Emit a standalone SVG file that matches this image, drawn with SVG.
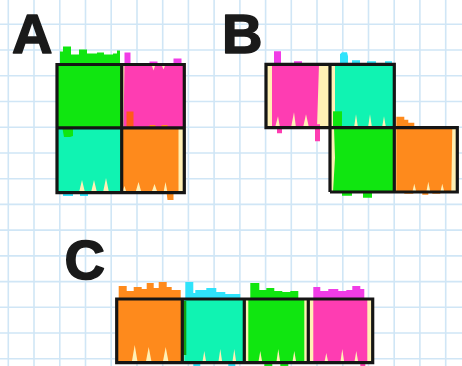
<svg xmlns="http://www.w3.org/2000/svg" width="462" height="366" viewBox="0 0 462 366">
<style>
.grid{stroke:#d0e6f6;stroke-width:1.6;fill:none}
.bg{fill:#fff0b5}
.gr{fill:#10e610}
.pk{fill:#fe3db2}
.mg{fill:#f03ce6}
.tl{fill:#10f3b2}
.cy{fill:#2fe3fb}
.or{fill:#fe8a1c}
.rd{fill:#ff5a1a}
.dg{fill:#11a011}
.outline{fill:none;stroke:#151515;stroke-width:3.2;stroke-linejoin:miter}
.lbl{font-family:"Liberation Sans",Arial,sans-serif;font-weight:bold;font-size:56px;fill:#1a1a1a;stroke:#1a1a1a;stroke-width:1.6;stroke-linejoin:round}
</style>
<rect width="462" height="366" fill="#ffffff"/>
<path class="grid" d="M8.3 0V366M34 0V366M59.8 0V366M85.5 0V366M111.2 0V366M137 0V366M162.7 0V366M188.4 0V366M214.1 0V366M239.9 0V366M265.6 0V366M291.3 0V366M317 0V366M342.8 0V366M368.5 0V366M394.2 0V366M419.9 0V366M445.7 0V366M0 24.3H462M0 50H462M0 75.8H462M0 101.5H462M0 127.2H462M0 153H462M0 178.7H462M0 204.4H462M0 230.1H462M0 255.9H462M0 281.6H462M0 307.2H462M0 333H462M0 358.8H462"/>

<g id="panelA">
<text class="lbl" x="12" y="53">A</text>
<g id="A-green" transform="translate(57,64.5)">
<rect class="bg" width="64.5" height="63.5"/>
<path class="gr" d="M0 0H64.5V63.5H0Z"/>
<path class="gr" d="M3 1V-13H6V-18H14V-10H22V-15H30V-11H40V-12H47V-10H56V-11H60V-14H63V1Z"/>
<path class="gr" d="M5 60H16V70L13 73H7Z"/>
</g>
<g id="A-pink" transform="translate(121.5,64.5)">
<rect class="bg" width="63" height="63.5"/>
<path class="pk" d="M3 0H30L32 6L34 0H40L42 5L44 0H62V63.5H2Z"/>
<path class="mg" d="M3 1V-12H9V1Z M28 1V-3H36V1Z M52 1V-6H60V1Z"/>
<path class="rd" d="M5 47H12V64H5Z"/>
</g>
<g id="A-teal" transform="translate(57,128)">
<rect class="bg" width="64.5" height="64.5"/>
<path class="tl" d="M0 0H64.5V64.5H52L49 50L46 64.5H40L37 52L34 64.5H28L25 52L22 64.5H0Z"/>
<path class="gr" d="M5 -2H16V8L13 9H7Z"/>
<path class="cy" d="M6 64V68H16V64Z M23 64V68H31V64Z"/>
</g>
<g id="A-orange" transform="translate(121.5,128)">
<rect class="bg" width="63" height="64.5"/>
<path class="or" d="M0 0H57V64.5H46L44 54L42 64.5H36L33 56L30 64.5H20L17 54L14 64.5H5L3 58L0 64.5Z"/>
<path class="or" d="M28 -3H34V2H28Z M40 -3H46V2H40Z M45 64H52V72H46Z"/>
</g>
<path class="outline" d="M57 64.5H184.3V192.7H57Z M121.7 64.5V192.7 M57 127.9H184.3"/>
</g>

<g id="panelB">
<text class="lbl" x="222" y="53">B</text>
<g id="B-pink" transform="translate(266,64.3)">
<rect class="bg" width="64" height="63.4"/>
<path class="pk" d="M6 0H53L51 63.4H43L40 50L37 63.4H30L28 48L25 63.4H14L12 52L9 63.4H6Z"/>
<path class="mg" d="M8 1V-13H15V1Z M28 1V-3H36V1Z"/>
<path class="pk" d="M11 62H16V69H11Z M49 60H54V77H49Z"/>
</g>
<g id="B-teal" transform="translate(330,64.3)">
<rect class="bg" width="64.3" height="63.4"/>
<path class="tl" d="M5 0H64.3V63.4H56L54 52L52 63.4H42L40 50L38 63.4H28L26 50L24 63.4H5Z"/>
<path class="cy" d="M10 1V-10L12 -12H17L18 -8V1Z M22 1V-4H30V1Z M37 1V-3H46V1Z M55 1V-3H62V1Z"/>
<path class="gr" d="M3 47H12V63.4H3Z"/>
</g>
<g id="B-green" transform="translate(330,127.7)">
<rect class="bg" width="64.3" height="64.3"/>
<path class="gr" d="M4 0H64.3V64.3H3L5 30Z"/>
<path class="gr" d="M12 63H22V68H12Z M33 63H42V70H33Z"/>
</g>
<g id="B-orange" transform="translate(394.3,127.7)">
<rect class="bg" width="63" height="64.3"/>
<path class="or" d="M2 0H58L57 64.3H50L48 56L46 64.3H36L34 54L32 64.3H22L20 56L18 64.3H2Z"/>
<path class="or" d="M2 1V-11H10V-8H14V-5H20V1Z"/>
<path class="or" d="M10 63H19V66H10Z M28 63H34V67H28Z M38 63H46V66H38Z"/>
</g>
<path class="outline" d="M266 64.3H394.3V127.7H266Z M330 64.3V192 M330 127.7H457.3V192H330 M394.3 127.7V192"/>
</g>

<g id="panelC">
<text class="lbl" x="64.5" y="279">C</text>
<g id="C-orange" transform="translate(116.7,299)">
<rect class="bg" width="65.6" height="63.7"/>
<path class="or" d="M0 0H65.6V63.7H52L49 48L46 63.7H35L32 48L29 63.7H21L18 46L15 63.7H0Z"/>
<path class="or" d="M2 1V-13H10V-8H17V-12H25V-10H30V-16H37V-11H42V-17H50V-12H55V-9H64V1Z"/>
</g>
<g id="C-teal" transform="translate(182.3,299)">
<rect class="bg" width="62" height="63.7"/>
<path class="tl" d="M2 0H62V63.7H54L52 50L50 63.7H40L38 50L36 63.7H24L22 52L20 63.7H2Z"/>
<path class="dg" d="M1 2H4V56H1Z"/>
<path class="cy" d="M3 1V-17H11V-6H13V-9H24V-11H34V-7H43V-5H58V1Z"/>
<path class="cy" d="M11 63H18V67H11Z M46 63H53V67H46Z"/>
</g>
<g id="C-green" transform="translate(244.3,299)">
<rect class="bg" width="64" height="63.7"/>
<path class="gr" d="M4 0H60V63.7H52L50 52L48 63.7H36L34 50L32 63.7H18L16 52L14 63.7H4Z"/>
<path class="gr" d="M6 1V-16H15V-9H22V-11H30V-8H38V-7H46V-8H54V1Z"/>
<path class="gr" d="M20 63H28V67H20Z M36 63H44V67H36Z"/>
</g>
<g id="C-pink" transform="translate(308.3,299)">
<rect class="bg" width="64.4" height="63.7"/>
<path class="pk" d="M5 0H59V63.7H50L48 52L46 63.7H36L34 50L32 63.7H20L18 54L16 63.7H5Z"/>
<path class="mg" d="M5 1V-12H12V-8H20V-10H30V-8H38V-9H44V-13H52V-10H56V1Z"/>
<path class="pk" d="M52 63H57V67H52Z"/>
</g>
<path class="outline" d="M116.7 299H372.7V362.7H116.7Z M182.3 299V362.7 M244.3 299V362.7 M308.3 299V362.7"/>
</g>
</svg>
